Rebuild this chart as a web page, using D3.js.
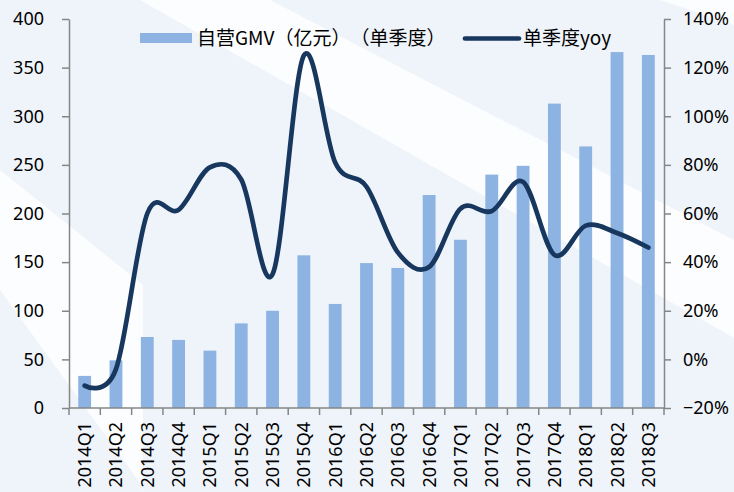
<!DOCTYPE html>
<html>
<head>
<meta charset="utf-8">
<script src="https://cdn.jsdelivr.net/npm/d3@7"></script>
<style>
  html, body { margin: 0; padding: 0; background: #fff; }
  svg text { font-family: "Noto Sans", "Noto Sans CJK SC", sans-serif; fill: #000; }
  svg text.cjk { font-family: "Noto Sans CJK SC", "Noto Sans", sans-serif; text-spacing-trim: space-all; }
</style>
</head>
<body>
<div id="chart"></div>
<script>
// data
const quarters = [
  '2014Q1', '2014Q2', '2014Q3', '2014Q4',
  '2015Q1', '2015Q2', '2015Q3', '2015Q4',
  '2016Q1', '2016Q2', '2016Q3', '2016Q4',
  '2017Q1', '2017Q2', '2017Q3', '2017Q4',
  '2018Q1', '2018Q2', '2018Q3',
];
const gmv = [33, 49, 73, 70, 59, 87, 100, 157, 107, 149, 144, 219, 173, 240, 249, 313, 269, 366, 363];
const yoy = [-0.108, -0.04, 0.6, 0.615, 0.79, 0.74, 0.35, 1.25, 0.81, 0.71, 0.44, 0.38, 0.62, 0.61, 0.73, 0.43, 0.55, 0.52, 0.46];
const leftTicks = [0, 50, 100, 150, 200, 250, 300, 350, 400];
const rightTicks = [-0.2, 0, 0.2, 0.4, 0.6, 0.8, 1.0, 1.2, 1.4];
const barLabel = '自营GMV（亿元）（单季度）';
const lineLabel = '单季度yoy';

const W = 734;
const H = 492;
const plot = { left: 69, right: 664, top: 19, bottom: 408 };

const svg = d3
  .select('#chart')
  .append('svg')
  .attr('width', W)
  .attr('height', H);

// background watermark
const bg = svg.append('g');
bg.append('rect').attr('width', W).attr('height', H).attr('fill', '#eff4fa');
const whiteShapes = [
  [[140, 0], [270, 0], [734, 240], [734, 338]],
  [[0, 170], [143, 285], [143, 492], [140, 483], [0, 290]],
  [[660, 0], [734, 0], [734, 25]],
];
bg.selectAll('polygon')
  .data(whiteShapes)
  .join('polygon')
  .attr('points', (d) => d.map((p) => p.join(',')).join(' '))
  .attr('fill', '#ffffff')
  .attr('opacity', 0.8);

const x = d3.scaleBand().domain(quarters).range([plot.left, plot.right]).padding(0);
const yL = d3.scaleLinear().domain([0, 400]).range([plot.bottom, plot.top]);
const yR = d3.scaleLinear().domain([-0.2, 1.4]).range([plot.bottom, plot.top]);

// bars
const barW = x.bandwidth() * 0.41;
svg
  .append('g')
  .selectAll('rect')
  .data(gmv)
  .join('rect')
  .attr('x', (d, i) => x(quarters[i]) + (x.bandwidth() - barW) / 2)
  .attr('y', (d) => yL(d))
  .attr('width', barW)
  .attr('height', (d) => yL(0) - yL(d))
  .attr('fill', '#8db3e2');

// axes
const axisColor = '#868686';
const leftAxis = svg
  .append('g')
  .attr('transform', `translate(${plot.left},0)`)
  .call(d3.axisLeft(yL).tickValues(leftTicks).tickSize(7).tickPadding(18).tickSizeOuter(0));

const rightAxis = svg
  .append('g')
  .attr('transform', `translate(${plot.right},0)`)
  .call(
    d3
      .axisRight(yR)
      .tickValues(rightTicks)
      .tickSize(7)
      .tickPadding(12)
      .tickSizeOuter(0)
      .tickFormat(d3.format('.0%'))
  );

[leftAxis, rightAxis].forEach((a) => {
  a.select('.domain').attr('stroke', axisColor).attr('stroke-width', 1.5);
  a.selectAll('.tick line').attr('stroke', axisColor).attr('stroke-width', 1.5);
  a.selectAll('.tick text').style('font-size', '18px').attr('fill', '#000');
});

// bottom axis: ticks on the category boundaries
const bottom = svg.append('g');
bottom
  .append('line')
  .attr('x1', plot.left)
  .attr('x2', plot.right)
  .attr('y1', plot.bottom)
  .attr('y2', plot.bottom)
  .attr('stroke', axisColor)
  .attr('stroke-width', 1.5);

const bounds = quarters.map((q) => x(q)).concat([plot.right]);
bottom
  .selectAll('.btick')
  .data(bounds)
  .join('line')
  .attr('class', 'btick')
  .attr('x1', (d) => d)
  .attr('x2', (d) => d)
  .attr('y1', plot.bottom)
  .attr('y2', plot.bottom + 7)
  .attr('stroke', axisColor)
  .attr('stroke-width', 1.5);

bottom
  .selectAll('.blabel')
  .data(quarters)
  .join('text')
  .attr('class', 'blabel')
  .attr('transform', (d) => `translate(${x(d) + x.bandwidth() / 2},${plot.bottom + 14}) rotate(-90)`)
  .attr('text-anchor', 'end')
  .attr('dy', '0.36em')
  .style('font-size', '18px')
  .text((d) => d);

// yoy line
const line = d3
  .line()
  .x((d, i) => x(quarters[i]) + x.bandwidth() / 2)
  .y((d) => yR(d))
  .curve(d3.curveCardinal.tension(0));

svg
  .append('path')
  .datum(yoy)
  .attr('d', line)
  .attr('fill', 'none')
  .attr('stroke', '#17375e')
  .attr('stroke-width', 4.7)
  .attr('stroke-linecap', 'round')
  .attr('stroke-linejoin', 'round');

// legend
const legend = svg.append('g');
legend
  .append('rect')
  .attr('x', 140)
  .attr('y', 33)
  .attr('width', 52)
  .attr('height', 10)
  .attr('fill', '#8db3e2');
legend
  .append('text')
  .attr('class', 'cjk')
  .attr('x', 197)
  .attr('y', 38.5)
  .attr('dy', '0.36em')
  .style('font-size', '19px')
  .text(barLabel);
legend
  .append('line')
  .attr('x1', 465)
  .attr('x2', 519)
  .attr('y1', 38.5)
  .attr('y2', 38.5)
  .attr('stroke', '#17375e')
  .attr('stroke-width', 4.7)
  .attr('stroke-linecap', 'round');
legend
  .append('text')
  .attr('class', 'cjk')
  .attr('x', 523)
  .attr('y', 38.5)
  .attr('dy', '0.36em')
  .style('font-size', '19px')
  .text(lineLabel);
</script>
</body>
</html>
